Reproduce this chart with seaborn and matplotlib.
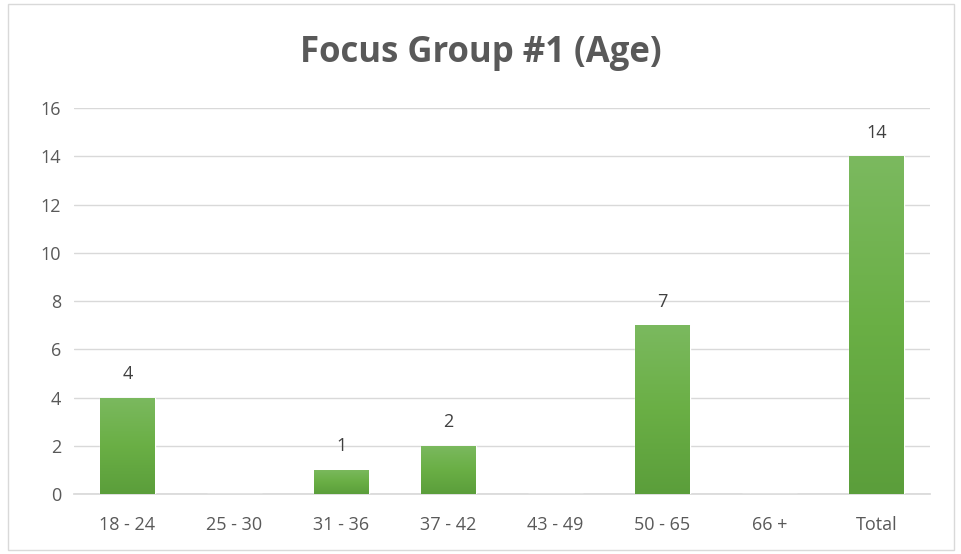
import seaborn as sns
import matplotlib.pyplot as plt
import matplotlib.patches as mpatches
import matplotlib.colors as mcolors
import numpy as np
import pandas as pd

age_groups = ['18 - 24', '25 - 30', '31 - 36', '37 - 42', '43 - 49', '50 - 65', '66 +', 'Total']
counts = [4, 0, 1, 2, 0, 7, 0, 14]

df = pd.DataFrame({'age': age_groups, 'count': counts})

sns.set_theme(style='white')
plt.rcParams['font.family'] = ['Open Sans', 'DejaVu Sans']

fig = plt.figure(figsize=(9.62, 5.54), dpi=100)
ax = fig.add_axes([0.0768, 0.1083, 0.89, 0.6967])

sns.barplot(data=df, x='age', y='count', color='#70AD47', width=0.51,
            saturation=1, ax=ax, zorder=3)

# vertical gradient on each bar
cmap = mcolors.LinearSegmentedColormap.from_list('g', ['#5b9e3b', '#6aaf45', '#7bb95f'])
grad = np.linspace(0, 1, 256).reshape(-1, 1)
for bar in ax.patches:
    h = bar.get_height()
    if h <= 0:
        continue
    x0 = bar.get_x()
    w = bar.get_width()
    im = ax.imshow(grad, cmap=cmap, aspect='auto', origin='lower',
                   extent=[x0, x0 + w, 0, h], zorder=4)
    im.set_clip_path(bar)
    ax.text(x0 + w / 2, h + 0.6, f'{h:.0f}', ha='center', va='bottom',
            fontsize=13, color='#404040', zorder=5)

ax.set_xlim(-0.5, len(age_groups) - 0.5)
ax.set_ylim(0, 16)
ax.set_yticks(range(0, 17, 2))
ax.yaxis.grid(True, color='#d9d9d9', linewidth=1)
ax.set_axisbelow(True)
for s in ['top', 'right', 'left']:
    ax.spines[s].set_visible(False)
ax.spines['bottom'].set_color('#d9d9d9')
ax.tick_params(axis='both', colors='#595959', labelsize=13, length=0, pad=9)
ax.tick_params(axis='x', pad=16)
ax.set_xlabel('')
ax.set_ylabel('')

fig.text(0.5, 0.905, 'Focus Group #1 (Age)', ha='center', va='center',
         fontsize=25, fontweight='bold', color='#595959')

# chart border
fig.patches.append(mpatches.Rectangle((0.008, 0.008), 0.984, 0.984, transform=fig.transFigure,
                                      fill=False, edgecolor='#d9d9d9', linewidth=1))

fig.savefig('out.png', dpi=100)
